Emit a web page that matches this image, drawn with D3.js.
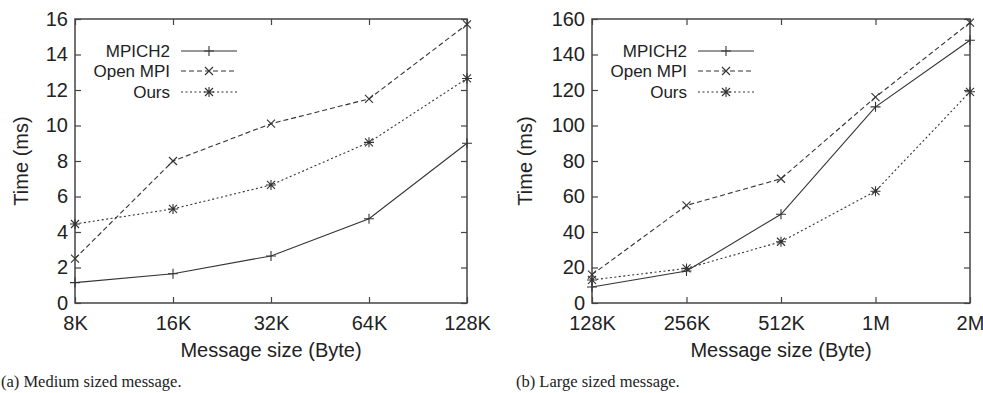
<!DOCTYPE html>
<html>
<head>
<meta charset="utf-8">
<script src="https://cdn.jsdelivr.net/npm/d3@7"></script>
<style>
  body { margin: 0; background: #fff; }
  svg { display: block; }
  text { font-family: "Liberation Sans", Arial, sans-serif; fill: #222; }
  .caption { font-family: "Liberation Serif", "Times New Roman", serif; font-size: 16.5px; }
</style>
</head>
<body>
<div id="chart"></div>
<script>
// series labels shared by both panels
const seriesNames = ['MPICH2', 'Open MPI', 'Ours'];

// (a) medium sized messages
const sizesMedium = ['8K', '16K', '32K', '64K', '128K'];
const mpichMedium = [1.15, 1.65, 2.65, 4.75, 9.0];
const openMpiMedium = [2.5, 8.0, 10.1, 11.5, 15.7];
const oursMedium = [4.45, 5.3, 6.65, 9.05, 12.65];
const yMaxMedium = 16;
const yStepMedium = 2;

// (b) large sized messages
const sizesLarge = ['128K', '256K', '512K', '1M', '2M'];
const mpichLarge = [9, 18, 50, 110.5, 148];
const openMpiLarge = [16, 55, 70, 116, 158];
const oursLarge = [13, 19.5, 34.5, 63, 119];
const yMaxLarge = 160;
const yStepLarge = 20;

const width = 983, height = 393;
const svg = d3.select('#chart').append('svg')
  .attr('width', width).attr('height', height);

// line / marker style per series
const dashes = [null, '5,3', '2,2.5'];
const ink = '#333';

function marker(g, kind, cx, cy) {
  const p = d3.path();
  const s = 5, d = 4;
  if (kind === 0 || kind === 2) {
    p.moveTo(cx - s, cy); p.lineTo(cx + s, cy);
    p.moveTo(cx, cy - s); p.lineTo(cx, cy + s);
  }
  if (kind === 1 || kind === 2) {
    p.moveTo(cx - d, cy - d); p.lineTo(cx + d, cy + d);
    p.moveTo(cx - d, cy + d); p.lineTo(cx + d, cy - d);
  }
  g.append('path').attr('d', p.toString())
    .attr('stroke', ink).attr('stroke-width', 1.1).attr('fill', 'none');
}

function drawPanel(opt) {
  const top = 19, bottom = 303;
  const x = d3.scalePoint().domain(opt.sizes).range([opt.left, opt.right]);
  const y = d3.scaleLinear().domain([0, opt.yMax]).range([bottom, top]);
  const yTicks = d3.range(0, opt.yMax + 0.001, opt.yStep);
  const g = svg.append('g');

  // axes with inward ticks
  const axL = g.append('g').attr('transform', `translate(${opt.left},0)`)
    .call(d3.axisLeft(y).tickValues(yTicks).tickSize(-6).tickPadding(7));
  const axR = g.append('g').attr('transform', `translate(${opt.right},0)`)
    .call(d3.axisRight(y).tickValues(yTicks).tickSize(-6).tickFormat(''));
  const axB = g.append('g').attr('transform', `translate(0,${bottom})`)
    .call(d3.axisBottom(x).tickSize(-6).tickPadding(13));
  const axT = g.append('g').attr('transform', `translate(0,${top})`)
    .call(d3.axisTop(x).tickSize(-6).tickFormat(''));
  [axL, axR, axB, axT].forEach(a => {
    a.select('.domain').remove();
    a.selectAll('line').attr('stroke', '#444').attr('stroke-width', 1.2);
    a.selectAll('text').attr('font-size', 20).attr('fill', '#222')
      .attr('font-family', '"Liberation Sans", Arial, sans-serif');
  });

  g.append('rect')
    .attr('x', opt.left).attr('y', top)
    .attr('width', opt.right - opt.left).attr('height', bottom - top)
    .attr('fill', 'none').attr('stroke', '#444').attr('stroke-width', 1.5);

  // axis titles
  g.append('text')
    .attr('x', (opt.left + opt.right) / 2).attr('y', 357)
    .attr('text-anchor', 'middle').attr('font-size', 20)
    .text('Message size (Byte)');
  g.append('text')
    .attr('transform', `translate(${opt.titleX},${(top + bottom) / 2}) rotate(-90)`)
    .attr('text-anchor', 'middle').attr('dy', '0.35em').attr('font-size', 20)
    .text('Time (ms)');

  // series
  const line = d3.line().x((d, i) => x(opt.sizes[i])).y(d => y(d));
  opt.series.forEach((vals, k) => {
    g.append('path').datum(vals)
      .attr('d', line)
      .attr('fill', 'none').attr('stroke', ink).attr('stroke-width', 1.1)
      .attr('stroke-dasharray', dashes[k]);
    vals.forEach((v, i) => marker(g, k, x(opt.sizes[i]), y(v)));
  });

  // legend
  const rows = [51, 71, 92];
  seriesNames.forEach((name, k) => {
    const ly = rows[k];
    g.append('text')
      .attr('x', opt.left + 95).attr('y', ly).attr('dy', '0.35em')
      .attr('text-anchor', 'end').attr('font-size', 17)
      .text(name);
    g.append('line')
      .attr('x1', opt.left + 106).attr('x2', opt.left + 162)
      .attr('y1', ly).attr('y2', ly)
      .attr('stroke', ink).attr('stroke-width', 1.1)
      .attr('stroke-dasharray', dashes[k]);
    marker(g, k, opt.left + 134, ly);
  });

  svg.append('text').attr('class', 'caption')
    .attr('x', opt.captionX).attr('y', 387)
    .text(opt.caption);
}

drawPanel({
  left: 75, right: 467, titleX: 21, captionX: 1,
  sizes: sizesMedium, yMax: yMaxMedium, yStep: yStepMedium,
  series: [mpichMedium, openMpiMedium, oursMedium],
  caption: '(a) Medium sized message.'
});

drawPanel({
  left: 592, right: 970, titleX: 525, captionX: 516,
  sizes: sizesLarge, yMax: yMaxLarge, yStep: yStepLarge,
  series: [mpichLarge, openMpiLarge, oursLarge],
  caption: '(b) Large sized message.'
});
</script>
</body>
</html>
